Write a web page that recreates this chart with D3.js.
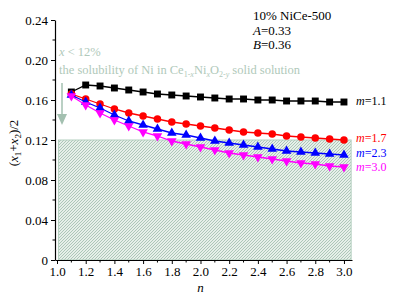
<!DOCTYPE html>
<html>
<head>
<meta charset="utf-8">
<script src="https://cdn.jsdelivr.net/npm/d3@7"></script>
<style>
  body { margin: 0; background: #fff; }
  svg text { font-family: "Liberation Serif", "Times New Roman", serif; }
</style>
</head>
<body>
<div id="chart"></div>
<script>
// data
const nValues = [1.1, 1.2, 1.3, 1.4, 1.5, 1.6, 1.7, 1.8, 1.9, 2.0, 2.1, 2.2, 2.3, 2.4, 2.5, 2.6, 2.7, 2.8, 2.9, 3.0];
const m11 = [0.168, 0.175, 0.174, 0.172, 0.170, 0.168, 0.166, 0.165, 0.164, 0.163, 0.162, 0.161, 0.161, 0.160, 0.160, 0.159, 0.159, 0.159, 0.158, 0.158];
const m17 = [0.166, 0.161, 0.156, 0.151, 0.147, 0.144, 0.141, 0.138, 0.136, 0.134, 0.132, 0.130, 0.128, 0.127, 0.126, 0.124, 0.123, 0.122, 0.121, 0.120];
const m23 = [0.165, 0.158, 0.152, 0.145, 0.139, 0.135, 0.131, 0.127, 0.125, 0.122, 0.119, 0.117, 0.115, 0.113, 0.111, 0.109, 0.108, 0.107, 0.106, 0.105];
const m30 = [0.164, 0.155, 0.147, 0.140, 0.134, 0.128, 0.124, 0.119, 0.116, 0.113, 0.110, 0.107, 0.105, 0.103, 0.101, 0.099, 0.097, 0.096, 0.094, 0.093];
const seriesLabels = ["1.1", "1.7", "2.3", "3.0"];
const xTicks = [1.0, 1.2, 1.4, 1.6, 1.8, 2.0, 2.2, 2.4, 2.6, 2.8, 3.0];
const yTicks = [0, 0.04, 0.08, 0.12, 0.16, 0.20, 0.24];
const solubilityLimit = 0.12;

const width = 401, height = 296;
const svg = d3.select("#chart").append("svg")
    .attr("width", width)
    .attr("height", height);

// scales
const x = d3.scaleLinear().domain([0.986, 3.056]).range([55, 352]);
const y = d3.scaleLinear().domain([0, 0.24]).range([260, 20]);

// hatch pattern for the shaded region
const defs = svg.append("defs");
const pat = defs.append("pattern")
    .attr("id", "hatch")
    .attr("patternUnits", "userSpaceOnUse")
    .attr("width", 3).attr("height", 3);
pat.append("rect").attr("width", 3).attr("height", 3).attr("fill", "#e6efe9");
pat.append("path")
    .attr("d", "M-1,1 l2,-2 M0,3 l3,-3 M2,4 l2,-2")
    .attr("stroke", "#9dbdab")
    .attr("stroke-width", 0.8);

svg.append("rect")
    .attr("x", x(1.01))
    .attr("y", y(solubilityLimit))
    .attr("width", x(3.05) - x(1.01))
    .attr("height", y(0) - y(solubilityLimit))
    .attr("fill", "url(#hatch)")
    .attr("stroke", "#b3cfbf")
    .attr("stroke-width", 1);

// axes
const xAxis = svg.append("g")
    .attr("transform", `translate(0,${y(0)})`)
    .call(d3.axisBottom(x).tickValues(xTicks).tickFormat(d3.format(".1f")).tickSize(4).tickSizeOuter(0));
const yAxis = svg.append("g")
    .attr("transform", `translate(${x.range()[0]},0)`)
    .call(d3.axisLeft(y).tickValues(yTicks).tickFormat(d => d === 0 ? "0" : d3.format(".2f")(d)).tickSize(4).tickSizeOuter(0));

// minor ticks
xAxis.selectAll(".minor").data(d3.range(1.1, 3.0, 0.2)).enter()
    .append("line").attr("class", "minor")
    .attr("x1", d => x(d)).attr("x2", d => x(d))
    .attr("y1", 0).attr("y2", 2.5).attr("stroke", "#000");
yAxis.selectAll(".minor").data(d3.range(0.02, 0.24, 0.04)).enter()
    .append("line").attr("class", "minor")
    .attr("y1", d => y(d)).attr("y2", d => y(d))
    .attr("x1", 0).attr("x2", -2.5).attr("stroke", "#000");

[xAxis, yAxis].forEach(ax => {
    ax.attr("font-family", "Liberation Serif").attr("font-size", 13);
    ax.selectAll(".tick text").attr("fill", "#000");
    ax.select(".domain").attr("stroke-width", 1.2);
});

// axis titles
svg.append("text")
    .attr("x", x(2.0)).attr("y", 292)
    .attr("text-anchor", "middle")
    .attr("font-size", 13).attr("font-style", "italic")
    .text("n");

const yLab = svg.append("text")
    .attr("transform", `translate(18,143) rotate(-90)`)
    .attr("text-anchor", "middle")
    .attr("font-size", 13);
yLab.append("tspan").text("(");
yLab.append("tspan").attr("font-style", "italic").text("x");
yLab.append("tspan").attr("font-size", 9).attr("dy", 3).text("1");
yLab.append("tspan").attr("dy", -3).text("+");
yLab.append("tspan").attr("font-style", "italic").text("x");
yLab.append("tspan").attr("font-size", 9).attr("dy", 3).text("2");
yLab.append("tspan").attr("dy", -3).text(")/2");

// series
const series = [
    { values: m11, color: "#000000", shape: d3.symbolSquare, size: 48, labelDy: 3 },
    { values: m17, color: "#ff0000", shape: d3.symbolCircle, size: 44, labelDy: 2 },
    { values: m23, color: "#0000ff", shape: d3.symbolTriangle, size: 40, labelDy: 1.5 },
    { values: m30, color: "#ff00ff", shape: "down", size: 40, labelDy: 3.5 }
];

const line = d3.line()
    .x((d, i) => x(nValues[i]))
    .y(d => y(d));

series.forEach((s, k) => {
    const g = svg.append("g");
    g.append("path")
        .attr("d", line(s.values))
        .attr("fill", "none")
        .attr("stroke", s.color)
        .attr("stroke-width", 1.3);
    const sym = d3.symbol().type(s.shape === "down" ? d3.symbolTriangle : s.shape).size(s.size);
    g.selectAll("path.pt").data(s.values).enter()
        .append("path").attr("class", "pt")
        .attr("d", sym)
        .attr("transform", (d, i) => `translate(${x(nValues[i])},${y(d)})` + (s.shape === "down" ? " rotate(180)" : ""))
        .attr("fill", s.color);

    const lab = svg.append("text")
        .attr("x", 356)
        .attr("y", y(s.values[s.values.length - 1]) + s.labelDy)
        .attr("font-size", 12)
        .attr("fill", s.color);
    lab.append("tspan").attr("font-style", "italic").text("m");
    lab.append("tspan").text("=" + seriesLabels[k]);
});

// annotations
const noteColor = "#b0c9ba";
const n1 = svg.append("text").attr("x", 59).attr("y", 56).attr("font-size", 12.5).attr("fill", noteColor);
n1.append("tspan").attr("font-style", "italic").text("x");
n1.append("tspan").text(" < 12%");

const n2 = svg.append("text").attr("x", 59).attr("y", 74).attr("font-size", 12.5).attr("fill", noteColor);
n2.append("tspan").text("the solubility of Ni in Ce");
n2.append("tspan").attr("font-size", 8).attr("dy", 3).text("1-");
n2.append("tspan").attr("font-size", 8).attr("font-style", "italic").text("x");
n2.append("tspan").attr("dy", -3).text("Ni");
n2.append("tspan").attr("font-size", 8).attr("dy", 3).attr("font-style", "italic").text("x");
n2.append("tspan").attr("dy", -3).text("O");
n2.append("tspan").attr("font-size", 8).attr("dy", 3).text("2-");
n2.append("tspan").attr("font-size", 8).attr("font-style", "italic").text("y");
n2.append("tspan").attr("dy", -3).text(" solid solution");

// downward arrow
svg.append("line")
    .attr("x1", 62).attr("x2", 62)
    .attr("y1", 83).attr("y2", 116)
    .attr("stroke", "#a3c0b0").attr("stroke-width", 1.5);
svg.append("path")
    .attr("d", "M57,114 L67,114 L62,125 Z")
    .attr("fill", "#a3c0b0");

// sample info
const info = svg.append("g").attr("font-size", 13).attr("fill", "#000");
info.append("text").attr("x", 253).attr("y", 20).text("10% NiCe-500");
const aText = info.append("text").attr("x", 253).attr("y", 35);
aText.append("tspan").attr("font-style", "italic").text("A");
aText.append("tspan").text("=0.33");
const bText = info.append("text").attr("x", 253).attr("y", 49);
bText.append("tspan").attr("font-style", "italic").text("B");
bText.append("tspan").text("=0.36");
</script>
</body>
</html>
